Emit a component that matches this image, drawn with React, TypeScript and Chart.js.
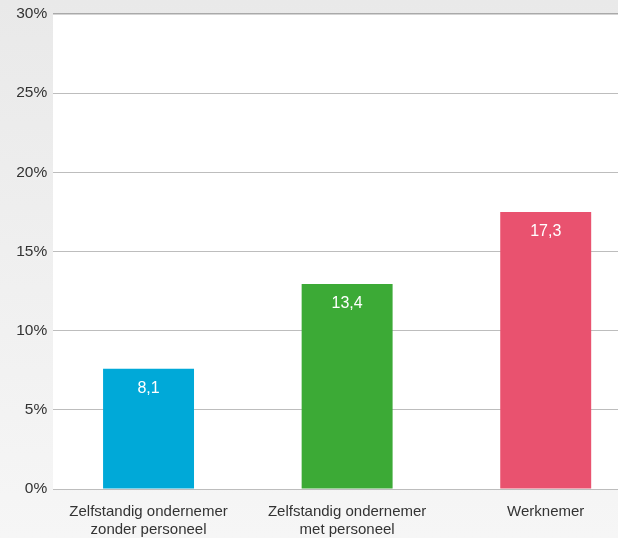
import React, { useEffect, useRef } from "react";
import { Chart, registerables } from "chart.js";

Chart.register(...registerables);

const categories: string[][] = [
  ["Zelfstandig ondernemer", "zonder personeel"],
  ["Zelfstandig ondernemer", "met personeel"],
  ["Werknemer"],
];
const barValues: number[] = [7.6, 12.95, 17.5];
const valueLabels: string[] = ["8,1", "13,4", "17,3"];
const barColors: string[] = ["#00a9d8", "#3caa36", "#e9526f"];
const yTicks: number[] = [0, 5, 10, 15, 20, 25, 30];

const FONT = "'Liberation Sans', Arial, sans-serif";
const PLOT_LEFT = 53;

const bgPlugin = {
  id: "bgPlugin",
  beforeDraw(chart: any) {
    const { ctx, width, height, chartArea } = chart;
    ctx.save();
    const g = ctx.createLinearGradient(0, 0, 0, height);
    g.addColorStop(0, "#e9e9e9");
    g.addColorStop(1, "#f6f6f6");
    ctx.fillStyle = g;
    ctx.fillRect(0, 0, width, height);
    ctx.fillStyle = "#ffffff";
    ctx.fillRect(PLOT_LEFT, chartArea.top, width - PLOT_LEFT, chartArea.bottom - chartArea.top);
    ctx.restore();
  },
  beforeDatasetsDraw(chart: any) {
    const { ctx, height, chartArea } = chart;
    ctx.save();
    const g = ctx.createLinearGradient(0, 0, 0, height);
    g.addColorStop(0, "#e9e9e9");
    g.addColorStop(1, "#f6f6f6");
    ctx.fillStyle = g;
    ctx.fillRect(chartArea.left - 2, chartArea.top - 2, PLOT_LEFT - chartArea.left + 2, chartArea.bottom - chartArea.top + 4);
    ctx.restore();
  },
  afterDatasetsDraw(chart: any) {
    const { ctx } = chart;
    const meta = chart.getDatasetMeta(0);
    ctx.save();
    ctx.fillStyle = "#ffffff";
    ctx.font = `16px ${FONT}`;
    ctx.textAlign = "center";
    ctx.textBaseline = "middle";
    meta.data.forEach((bar: any, i: number) => {
      ctx.fillText(valueLabels[i], bar.x, bar.y + 19.5);
    });
    ctx.restore();
  },
};

export default function App() {
  const ref = useRef<HTMLCanvasElement | null>(null);
  useEffect(() => {
    if (!ref.current) return;
    const chart = new Chart(ref.current, {
      type: "bar",
      data: {
        labels: categories,
        datasets: [
          {
            data: barValues,
            backgroundColor: barColors,
            borderWidth: 0,
            barPercentage: 0.458,
            categoryPercentage: 1,
          },
        ],
      },
      options: {
        animation: false,
        responsive: true,
        maintainAspectRatio: false,
        layout: { padding: { top: 14, right: 15, left: 0, bottom: 0 } },
        plugins: { legend: { display: false }, tooltip: { enabled: false } },
        scales: {
          x: {
            grid: { display: false },
            border: { display: false },
            ticks: {
              color: "#333333",
              font: { family: FONT, size: 15 },
              padding: 6,
              maxRotation: 0,
              autoSkip: false,
            },
            afterFit(scale: any) {
              scale.height = 49;
            },
          },
          y: {
            min: 0,
            max: 30,
            afterBuildTicks(scale: any) {
              scale.ticks = yTicks.map((v) => ({ value: v }));
            },
            grid: {
              color: (c: any) => (c.tick && c.tick.value === 30 ? "#a9a9a9" : "#bdbdbd"),
              lineWidth: (c: any) => (c.tick && c.tick.value === 30 ? 1.5 : 1),
              drawTicks: false,
            },
            border: { display: false },
            ticks: {
              color: "#333333",
              font: { family: FONT, size: 15.5 },
              padding: 2,
              callback: (v: any) => `${v}%`,
            },
            afterFit(scale: any) {
              scale.width = 49.25;
            },
          },
        },
      },
      plugins: [bgPlugin],
    });
    return () => chart.destroy();
  }, []);
  return (
    <div style={{ position: "absolute", left: 0, top: 0, width: 618, height: 538, overflow: "hidden" }}>
      <div style={{ position: "relative", width: 660, height: 538 }}>
        <canvas ref={ref} />
      </div>
    </div>
  );
}
